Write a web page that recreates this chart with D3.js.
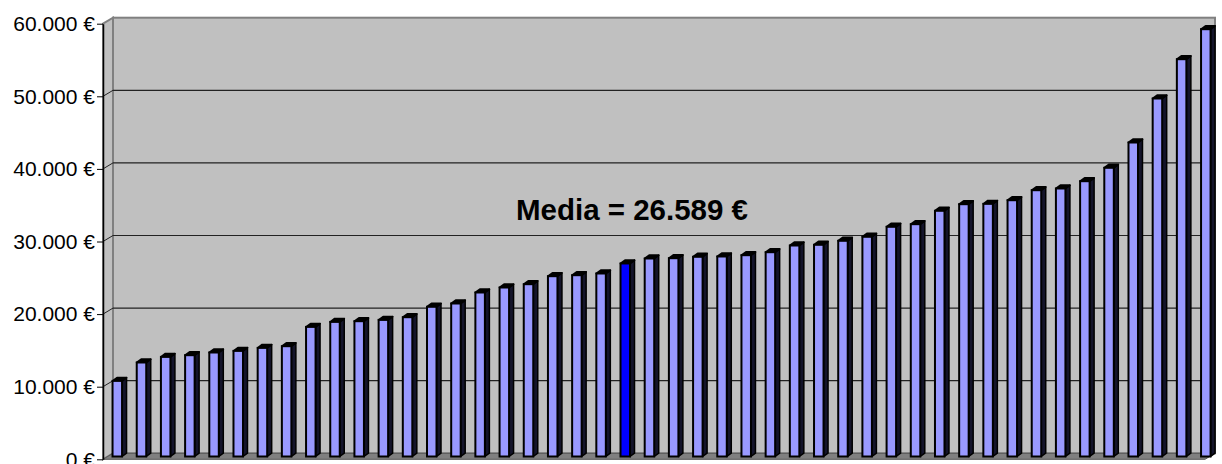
<!DOCTYPE html>
<html>
<head>
<meta charset="utf-8">
<script src="https://cdn.jsdelivr.net/npm/d3@7"></script>
<style>
body { margin: 0; background: #fff; }
text { font-family: "Liberation Sans", Arial, sans-serif; }
</style>
</head>
<body>
<div id="chart"></div>
<script>
// sorted incomes, one bar per person; index 21 is the "media" bar
var salaries = [10413, 12948, 13719, 13953, 14325, 14545, 14959, 15193, 17851, 18540,
  18636, 18815, 19187, 20620, 21074, 22590, 23278, 23733, 24835, 24972,
  25207, 26589, 27273, 27314, 27507, 27550, 27727, 28140, 29063, 29160,
  29711, 30262, 31639, 32000, 33843, 34752, 34800, 35300, 36680, 36915,
  37920, 39766, 43250, 49311, 54724, 58857];
var mediaIndex = 21;
var mediaLabel = "Media = 26.589 €";
var tickValues = [0, 10000, 20000, 30000, 40000, 50000, 60000];

(function () {
var width = 1222,
height = 464;

var svg = d3.select("#chart")
.append("svg")
.attr("width", width)
.attr("height", height)

// depth of the 3d box
var ddx = 10, ddy = 6;
var left = 103, right = 1205;

var yBack = d3.scaleLinear().domain([0, 60000]).range([453.3, 17.7])
var yFront = d3.scaleLinear().domain([0, 60000]).range([453.3 + ddy, 17.7 + ddy])
var yBar = d3.scaleLinear().domain([0, 60000]).range([456.5, 20.9])

var x = d3.scaleBand()
.domain(d3.range(salaries.length))
.range([105.2, 1217.9])
.paddingInner(0.607)
.paddingOuter(0.3035)

// back wall
svg.append("rect")
.attr("x", left + ddx)
.attr("y", yBack(60000))
.attr("width", right - left)
.attr("height", yBack(0) - yBack(60000))
.attr("fill", "#c0c0c0")
.attr("stroke", "#808080")
.attr("stroke-width", 2)

// side wall
svg.append("polygon")
.attr("points", [[left, yFront(60000)], [left + ddx, yBack(60000)], [left + ddx, yBack(0)], [left, yFront(0)]].join(" "))
.attr("fill", "#c0c0c0")
.attr("stroke", "#808080")
.attr("stroke-width", 2)

// floor
svg.append("polygon")
.attr("points", [[left, yFront(0)], [right, yFront(0)], [right + ddx, yBack(0)], [left + ddx, yBack(0)]].join(" "))
.attr("fill", "#808080")
.attr("stroke", "#555")
.attr("stroke-width", 1)

var grid = tickValues.filter(function(d){ return d > 0 && d < 60000 })

svg.selectAll(".grid")
.data(grid)
.enter().append("line")
.attr("class", "grid")
.attr("x1", left + ddx)
.attr("x2", right + ddx)
.attr("y1", function(d){ return yBack(d) })
.attr("y2", function(d){ return yBack(d) })
.attr("stroke", "#222")
.attr("stroke-width", 1.2)

svg.selectAll(".grid-side")
.data(grid)
.enter().append("line")
.attr("class", "grid-side")
.attr("x1", left)
.attr("x2", left + ddx)
.attr("y1", function(d){ return yFront(d) })
.attr("y2", function(d){ return yBack(d) })
.attr("stroke", "#222")
.attr("stroke-width", 1)

// y axis on the front edge
var axis = svg.append("g")
.attr("transform", "translate(" + left + ",0)")
.call(d3.axisLeft(yFront)
  .tickValues(tickValues)
  .tickSize(6)
  .tickSizeOuter(0)
  .tickPadding(2)
  .tickFormat(function(d){ return d3.format(",")(d).replace(/,/g, ".") + " €" }))

axis.select(".domain").attr("stroke", "#000").attr("stroke-width", 1.5)
axis.selectAll(".tick line").attr("stroke", "#000")
axis.selectAll("text")
.attr("font-family", "'Liberation Sans', Arial, sans-serif")
.attr("font-size", 21)
.attr("fill", "#000")

// bars
var bw = x.bandwidth(), bdx = 4.5, bdy = 3.3;

var bars = svg.selectAll(".bar")
.data(salaries)
.enter().append("g")
.attr("class", "bar")

bars.append("polygon")
.attr("points", function(d, i){
  var x0 = x(i) + bw, yt = yBar(d), yb = yBar(0);
  return [[x0, yt], [x0 + bdx, yt - bdy], [x0 + bdx, yb - bdy], [x0, yb]].join(" ")
})
.attr("fill", "#14142a")
.attr("stroke", "#000")
.attr("stroke-width", 1.5)
.attr("stroke-linejoin", "round")

bars.append("polygon")
.attr("points", function(d, i){
  var x0 = x(i), yt = yBar(d);
  return [[x0, yt], [x0 + bdx, yt - bdy], [x0 + bw + bdx, yt - bdy], [x0 + bw, yt]].join(" ")
})
.attr("fill", "#000")
.attr("stroke", "#000")
.attr("stroke-width", 1.8)
.attr("stroke-linejoin", "round")

bars.append("rect")
.attr("x", function(d, i){ return x(i) })
.attr("y", function(d){ return yBar(d) })
.attr("width", bw)
.attr("height", function(d){ return yBar(0) - yBar(d) })
.attr("fill", function(d, i){ return i === mediaIndex ? "#0000ff" : "#9999ff" })
.attr("stroke", "#000")
.attr("stroke-width", 2)

svg.append("text")
.attr("x", 632)
.attr("y", 220)
.attr("text-anchor", "middle")
.attr("font-size", 29.5)
.attr("font-weight", "bold")
.attr("fill", "#000")
.text(mediaLabel)

})();
</script>
</body>
</html>
